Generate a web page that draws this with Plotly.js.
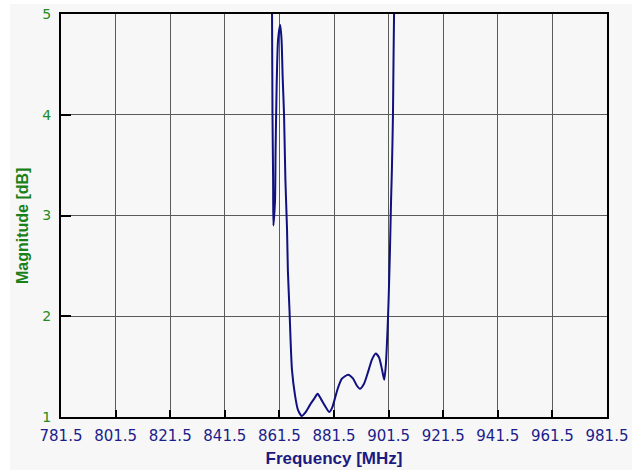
<!DOCTYPE html>
<html>
<head>
<meta charset="utf-8">
<script src="https://cdn.plot.ly/plotly-3.0.1.min.js"></script>
<style>
html,body{margin:0;padding:0;background:#ffffff;}
#chart{position:absolute;left:10px;top:4px;width:622px;height:466px;}
</style>
</head>
<body>
<div id="chart"></div>
<script>
// Frequency in MHz
const freq = [858.7, 858.8, 858.97, 859.2, 859.3, 859.9, 860.1, 860.5, 861.0, 861.8, 862.3, 862.7, 863.2, 863.7, 864.3, 864.6, 865.2, 865.6, 866.1, 867.2, 868.3, 869.7, 870.9, 872.7, 874.2, 875.5, 876.7, 878.2, 879.8, 880.8, 881.9, 882.97, 884.4, 886.7, 888.5, 889.9, 891.0, 892.5, 893.9, 895.4, 896.8, 898.0, 899.1, 899.9, 900.5, 901.1, 901.5, 902.0, 902.4, 902.7, 903.1, 903.3, 903.5, 903.7];
// Magnitude in dB
const mag = [5.3, 5.0, 4.0, 3.35, 2.9, 3.15, 3.65, 4.3, 4.74, 4.89, 4.74, 4.37, 4.0, 3.35, 2.86, 2.46, 2.06, 1.76, 1.47, 1.22, 1.07, 1.01, 1.04, 1.12, 1.18, 1.23, 1.18, 1.11, 1.05, 1.09, 1.19, 1.29, 1.38, 1.42, 1.38, 1.31, 1.28, 1.33, 1.44, 1.57, 1.63, 1.59, 1.47, 1.37, 1.52, 1.86, 2.16, 2.66, 3.15, 3.45, 4.0, 4.54, 5.0, 5.3];
const xTicks = [781.5, 801.5, 821.5, 841.5, 861.5, 881.5, 901.5, 921.5, 941.5, 961.5, 981.5];
const yTicks = [1, 2, 3, 4, 5];

const trace = {
  x: freq, y: mag, type: 'scatter', mode: 'lines',
  line: {color: '#10107f', width: 2, shape: 'spline', smoothing: 0.6},
  hoverinfo: 'skip'
};

const layout = {
  width: 622, height: 466,
  margin: {l: 51, r: 25, t: 10, b: 53},
  paper_bgcolor: '#f7f7f7',
  plot_bgcolor: '#f7f7f7',
  showlegend: false,
  xaxis: {
    range: [781.5, 981.5],
    tickvals: xTicks,
    ticktext: xTicks.map(v => v.toFixed(1)),
    ticks: 'inside', ticklen: 7, tickwidth: 2, tickcolor: '#000',
    showgrid: true, gridcolor: '#5a5a5a', gridwidth: 1,
    showline: true, linecolor: '#000', linewidth: 2, mirror: true,
    zeroline: false,
    tickfont: {family: 'DejaVu Sans', size: 15, color: '#1c1c8a'},
    ticklabelstandoff: 4,
    title: {text: 'Frequency [MHz]', font: {family: 'Liberation Sans', size: 17, color: '#1a1a80', weight: 'bold'}, standoff: 8}
  },
  yaxis: {
    range: [1, 5],
    tickvals: yTicks,
    ticktext: yTicks.map(String),
    ticks: 'inside', ticklen: 10, tickwidth: 2, tickcolor: '#000',
    showgrid: true, gridcolor: '#5a5a5a', gridwidth: 1,
    showline: true, linecolor: '#000', linewidth: 2, mirror: true,
    zeroline: false,
    tickfont: {family: 'DejaVu Sans', size: 14, color: '#228b22'},
    ticklabelstandoff: 5
  },
  annotations: [{
    text: '<b>Magnitude [dB]</b>',
    xref: 'paper', yref: 'paper',
    x: -0.0696, y: 0.474,
    xanchor: 'center', yanchor: 'middle',
    textangle: -90, showarrow: false,
    font: {family: 'Liberation Sans', size: 16, color: '#1a801a'}
  }]
};

Plotly.newPlot('chart', [trace], layout, {displayModeBar: false, staticPlot: true});
</script>
</body>
</html>
